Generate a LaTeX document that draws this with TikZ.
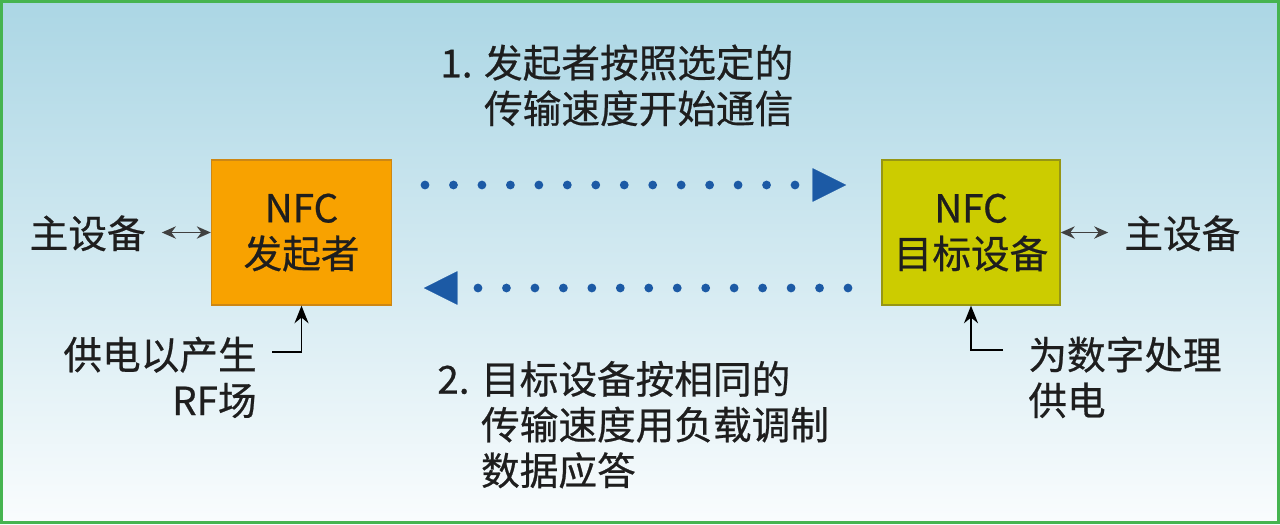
\documentclass[tikz,border=0pt]{standalone}
\usepackage{fontspec}
\setmainfont{Noto Sans CJK SC}[FakeBold=0.6]
\usepackage{tikz}
\usetikzlibrary{arrows.meta}
\definecolor{bgtop}{RGB}{150,204,222}
\definecolor{frame}{RGB}{70,180,80}
\definecolor{initfill}{RGB}{248,162,0}
\definecolor{initdraw}{RGB}{205,135,20}
\definecolor{tgtfill}{RGB}{204,204,0}
\definecolor{tgtdraw}{RGB}{150,150,20}
\definecolor{dotblue}{RGB}{28,90,165}
\definecolor{txt}{RGB}{30,30,30}

\begin{document}
\begin{tikzpicture}[x=0.02cm, y=-0.02cm, font=\fontsize{22}{26}\selectfont, text=txt,
  box/.style = {draw, line width=0.8pt, minimum width=3.6cm, minimum height=2.9cm, align=center},
  lbl/.style = {inner sep=0pt, align=left},
  dots/.style = {dotblue, line width=5pt, line cap=round, dash pattern=on 0pt off 16.2pt,
    -{Triangle[length=19pt 0, width=19pt 0, line width=0.1pt 0]}},
  host/.style = {{Stealth[length=8pt, width=7pt]}-{Stealth[length=8pt, width=7pt]}, line width=1pt, draw=gray!50!black},
  power/.style = {-{Stealth[length=10pt, width=8pt]}, line width=0.9pt}]

  \useasboundingbox (0,0) rectangle (1280,524);
  \shade[top color=bgtop, bottom color=white] (0,-140) rectangle (1280,560);
  \draw[frame, line width=1.7pt] (1.5,1.5) rectangle (1278.5,522.5);

  \node[box, fill=initfill, draw=initdraw] (I) at (301.5,232.5) {NFC\\发起者};
  \node[box, fill=tgtfill, draw=tgtdraw, minimum width=3.56cm] (T) at (971,232.5) {NFC\\目标设备};

  \node[lbl, anchor=base east] (HL) at (146,248) {主设备};
  \node[lbl, anchor=base west] (HR) at (1124,248) {主设备};

  \node[lbl, anchor=base west] (S) at (440,123) {1. 发起者按照选定的\\\phantom{1. }传输速度开始通信};
  \node[lbl, anchor=base west] (R) at (437,485) {2. 目标设备按相同的\\\phantom{2. }传输速度用负载调制\\\phantom{2. }数据应答};

  \node[lbl, align=right, anchor=base east] (PL) at (257,415) {供电以产生\\RF场};
  \node[lbl, anchor=base west] (PR) at (1028,415) {为数字处理\\供电};

  \coordinate (S1) at (425,185);
  \coordinate (S2) at (846,185);
  \coordinate (R1) at (848,288);
  \coordinate (R2) at (424,288);
  \coordinate (pL) at (272,352);
  \coordinate (pR) at (1003,350);

  \draw[dots] (S1) -- (S2);
  \draw[dots] (R1) -- (R2);

  \draw[host, shorten <=9pt] (HL.east |- I.west) -- (I.west);
  \draw[host, shorten >=9pt] (T.east) -- (T.east -| HR.west);

  \draw[power] (pL) -| (I.south);
  \draw[power] (pR) -| (T.south);
\end{tikzpicture}
\end{document}
